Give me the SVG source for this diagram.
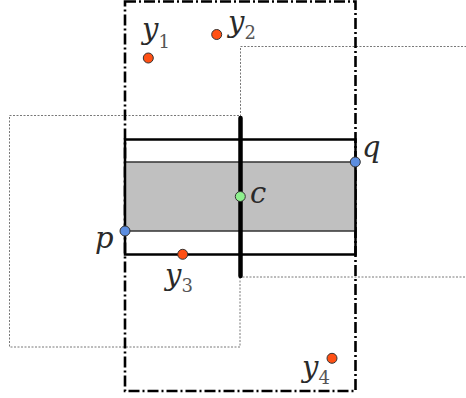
<svg xmlns="http://www.w3.org/2000/svg" width="466" height="398" viewBox="0 0 466 398">
<style>
.dd{fill:none;stroke:#000;stroke-width:2.6;stroke-dasharray:11 3 2 3}
.dot{fill:none;stroke:#555;stroke-width:0.8;stroke-dasharray:2 1.5}
.solid{fill:none;stroke:#000;stroke-width:2.5}
.ptO{fill:#ff5014;stroke:#333;stroke-width:1}
.ptB{fill:#5b8de0;stroke:#333;stroke-width:1}
.ptG{fill:#8ef08e;stroke:#333;stroke-width:1}
text{font-family:'DejaVu Serif','Liberation Serif',serif;fill:#2a2a2a}
.lbl{font-style:italic;font-size:29px}
.sub{font-style:normal;font-size:18px;fill:#555}
</style>
<g id="frames">
<rect class="dot" x="9.5" y="115.5" width="230.5" height="231.5"/>
<polyline class="dot" points="470,46.5 240.5,46.5 240.5,277 470,277"/>
<rect class="dd" x="125" y="1.5" width="230.5" height="389.5"/>
</g>
<g id="band">
<rect x="125" y="162" width="230.5" height="69" fill="#c0c0c0" stroke="#333" stroke-width="1.5"/>
<rect class="solid" x="125" y="139.5" width="230.5" height="115"/>
</g>
<g id="connectors">
<line x1="240.5" y1="118" x2="240.5" y2="276" stroke="#000" stroke-width="4.5" stroke-linecap="round"/>
</g>
<g id="y1"><circle class="ptO" cx="148.3" cy="58" r="5"/><text class="lbl" x="142" y="39">y<tspan class="sub" dy="9">1</tspan></text></g>
<g id="y2"><circle class="ptO" cx="216.7" cy="34.5" r="5"/><text class="lbl" x="228" y="32">y<tspan class="sub" dy="7">2</tspan></text></g>
<g id="y3"><circle class="ptO" cx="182.7" cy="254.3" r="5"/><text class="lbl" x="165" y="285">y<tspan class="sub" dy="7">3</tspan></text></g>
<g id="y4"><circle class="ptO" cx="332" cy="358.3" r="5"/><text class="lbl" x="302" y="377">y<tspan class="sub" dy="7">4</tspan></text></g>
<g id="p"><circle class="ptB" cx="125" cy="231" r="5"/><text class="lbl" x="95" y="248">p</text></g>
<g id="q"><circle class="ptB" cx="355.3" cy="162" r="5"/><text class="lbl" x="362" y="157">q</text></g>
<g id="c"><circle class="ptG" cx="240.3" cy="196.5" r="5"/><text class="lbl" x="250" y="203">c</text></g>
</svg>
